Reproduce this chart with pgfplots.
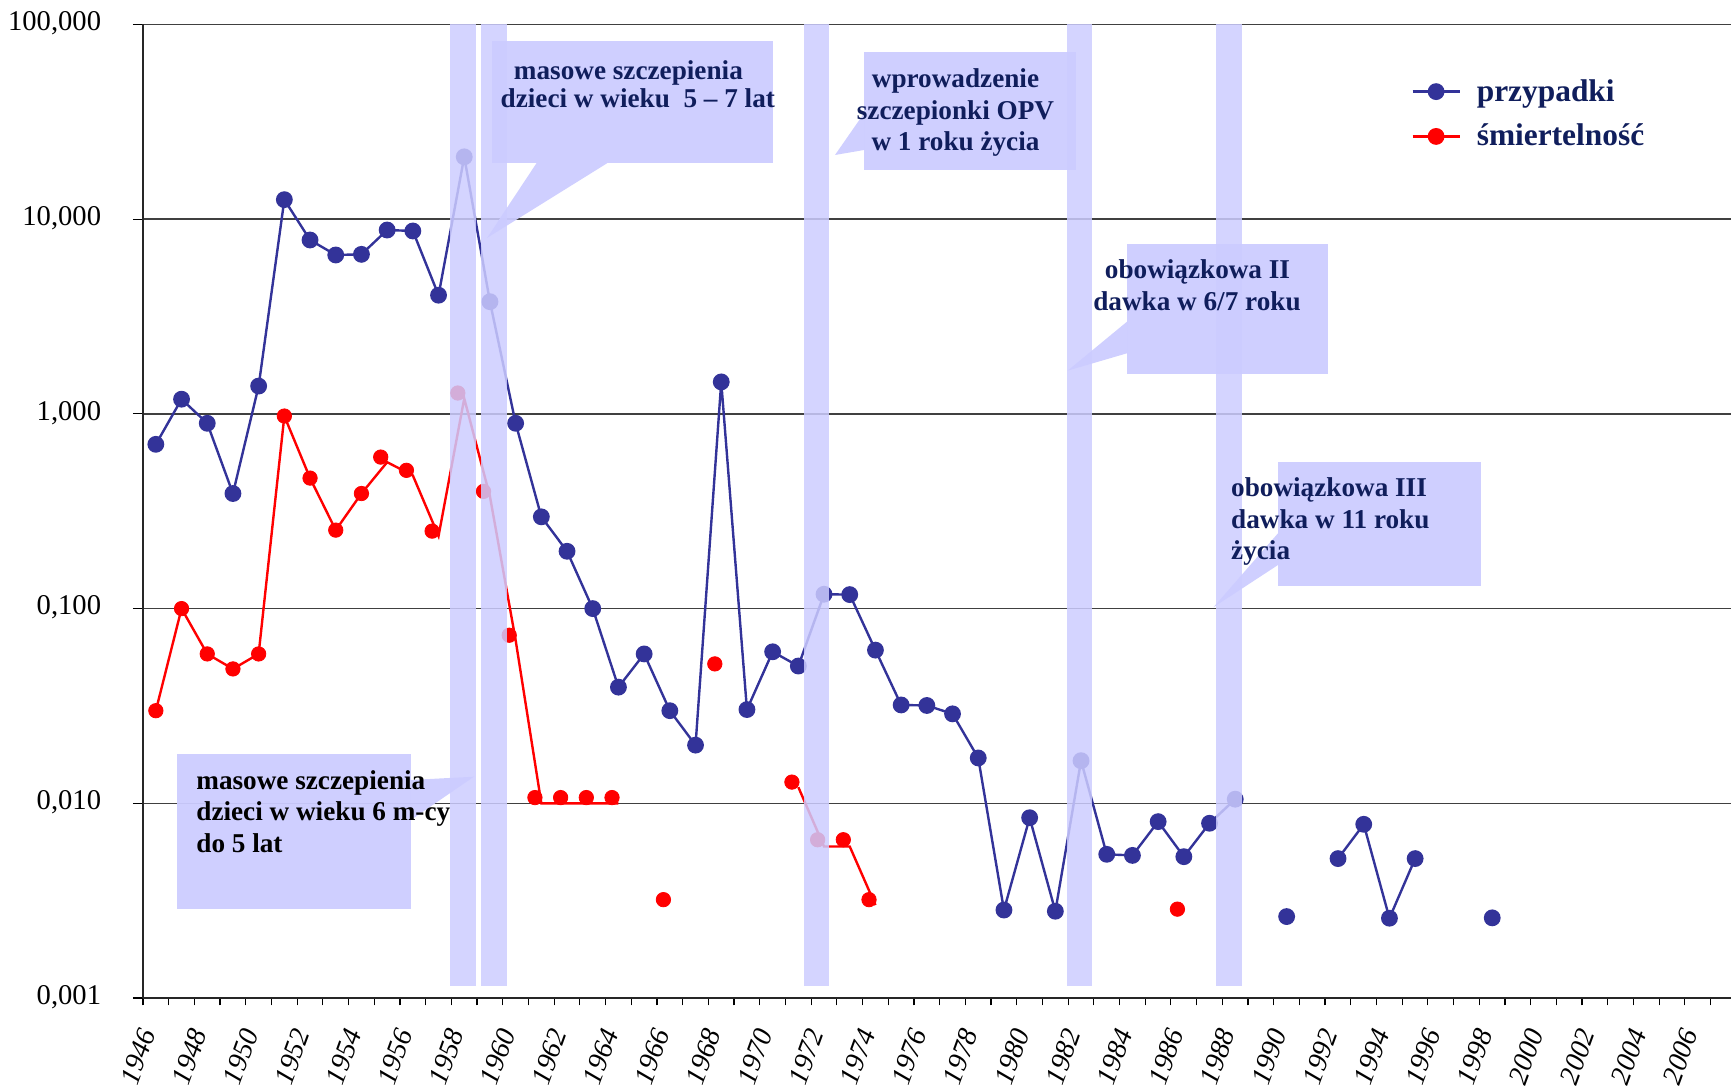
\documentclass[border=0pt]{standalone}
\usepackage{pgfplots}
\pgfplotsset{compat=1.18}
\usepackage{fontspec}
\setmainfont{Liberation Serif}
\definecolor{myblue}{RGB}{51,51,153}
\definecolor{navytxt}{RGB}{16,30,92}
\definecolor{bandcol}{RGB}{204,204,255}
\begin{document}
\begin{tikzpicture}
\begin{axis}[
  scale only axis, width=794pt, height=486.75pt,
  xmin=1946, xmax=2007.79,
  ymode=log, ymin=0.001, ymax=100,
  axis lines*=left,
  axis line style={black!85, line width=0.7pt},
  tick align=outside,
  major tick length=5pt, minor tick length=3.7pt,
  tick style={black, line width=0.6pt},
  ytick={0.001,0.01,0.1,1,10,100},
  yticklabels={{0,001},{0,010},{0,100},{1,000},{10,000},{100,000}},
  yminorticks=false,
  ymajorgrids, grid style={black!75, line width=0.7pt},
  xtick={1946.5,1948.5,...,2006.5},
  xticklabels={1946,1948,1950,1952,1954,1956,1958,1960,1962,1964,1966,1968,1970,1972,1974,1976,1978,1980,1982,1984,1986,1988,1990,1992,1994,1996,1998,2000,2002,2004,2006},
  minor xtick={1946,1947,...,2007},
  major x tick style={draw=none},
  xticklabel style={font=\itshape\fontsize{14}{14}\selectfont, inner sep=0pt, xshift=-4pt, yshift=-11pt, rotate=70, anchor=east},
  yticklabel style={font=\fontsize{14.3}{14.3}\selectfont, inner sep=0pt, anchor=east, xshift=-15.75pt, yshift=0.6pt},
  unbounded coords=jump,
  legend style={draw=none, fill=none, at={(0.7985,0.9442)}, anchor=north west, inner sep=0pt,
    row sep=10pt, column sep=8pt, font=\bfseries\fontsize{15.7}{18}\selectfont, text=navytxt,
    nodes={inner sep=0pt}},
  legend cell align=left,
  legend image code/.code={\draw[mark repeat=2,mark phase=2,#1] plot coordinates {(0pt,0pt)(11.75pt,0pt)(23.5pt,0pt)};},
]
\addlegendimage{myblue, line width=1.2pt, mark=*, mark size=3.6pt, mark options={solid, fill=myblue}}
\addlegendentry{przypadki}
\addlegendimage{red, line width=1.2pt, mark=*, mark size=3.6pt, mark options={solid, fill=red}}
\addlegendentry{śmiertelność}

% przypadki
\addplot[forget plot, myblue, line width=1.2pt, mark=*, mark size=3.6pt, mark options={solid, fill=myblue}] coordinates {
(1946.5,0.698)(1947.5,1.19)(1948.5,0.895)(1949.5,0.39)(1950.5,1.39)(1951.5,12.6)(1952.5,7.82)(1953.5,6.55)(1954.5,6.6)(1955.5,8.8)(1956.5,8.7)(1957.5,4.07)(1958.5,20.9)(1959.5,3.77)(1960.5,0.895)(1961.5,0.296)(1962.5,0.197)(1963.5,0.100)(1964.5,0.0395)(1965.5,0.0585)(1966.5,0.0299)(1967.5,0.0199)(1968.5,1.46)(1969.5,0.0303)(1970.5,0.060)(1971.5,0.0507)(1972.5,0.1185)(1973.5,0.118)(1974.5,0.0612)(1975.5,0.032)(1976.5,0.0318)(1977.5,0.0288)(1978.5,0.0171)(1979.5,0.00283)(1980.5,0.00843)(1981.5,0.00279)(1982.5,0.01655)(1983.5,0.00547)(1984.5,0.0054)(1985.5,0.00805)(1986.5,0.00532)(1987.5,0.0079)(1988.5,0.0105)(1989.5,nan)(1990.5,0.00262)(1991.5,nan)(1992.5,0.0052)(1993.5,0.0078)(1994.5,0.00257)(1995.5,0.0052)(1996.5,nan)(1998.5,0.00258)
};
% smiertelnosc - line
\addplot[forget plot, red, line width=1.2pt, no marks] coordinates {
(1946.5,0.0299)(1947.5,0.100)(1948.5,0.0585)(1949.5,0.049)(1950.5,0.0585)(1951.5,0.975)(1952.5,0.468)(1953.5,0.253)(1954.5,0.39)(1955.5,0.565)(1956.5,0.483)(1957.5,0.236)(1958.5,1.2)(1959.5,0.377)(1960.5,0.0688)(1961.5,0.0100)(1962.5,0.0100)(1963.5,0.0100)(1964.5,0.0100)(1965.5,nan)(1971.5,0.0121)(1972.5,0.0060)(1973.5,0.0060)(1974.5,0.0030)
};
% smiertelnosc - points
\addplot[forget plot, only marks, red, mark=*, mark size=3.6pt, mark options={solid, fill=red}] coordinates {
(1946.5,0.0299)(1947.5,0.100)(1948.5,0.0585)(1949.5,0.049)(1950.5,0.0585)(1951.5,0.975)(1952.5,0.468)(1953.5,0.253)(1954.5,0.39)(1955.25,0.60)(1956.25,0.513)(1957.25,0.25)(1958.25,1.28)(1959.25,0.40)(1960.25,0.073)(1961.25,0.0107)(1962.25,0.0107)(1963.25,0.0107)(1964.25,0.0107)(1966.25,0.0032)(1968.25,0.052)(1971.25,0.01285)(1972.25,0.0065)(1973.25,0.0065)(1974.25,0.0032)(1986.25,0.00286)
};
\end{axis}
\begin{scope}[shift={(current axis.north west)}, x=0.5pt, y=-0.5pt, shift={(-143,-24.5)}]
\pgfresetboundingbox
\path[use as bounding box] (0,0) rectangle (1731,1086);
% bands
\fill[bandcol, opacity=0.85] (450.4,24.5) rectangle (475.8,985.7);
\fill[bandcol, opacity=0.85] (481.3,24.5) rectangle (506.7,985.7);
\fill[bandcol, opacity=0.85] (803.7,24.5) rectangle (829.1,985.7);
\fill[bandcol, opacity=0.85] (1066.5,24.5) rectangle (1091.9,985.7);
\fill[bandcol, opacity=0.85] (1215.5,24.5) rectangle (1242,985.7);
% callouts
\fill[bandcol, opacity=0.95] (492.4,40.8) rectangle (772.8,163.4);
\fill[bandcol, opacity=0.95] (536.5,163.2) -- (487,238) -- (607.2,163.2) -- cycle;
\fill[bandcol, opacity=0.95] (864,51.7) rectangle (1076,170);
\fill[bandcol, opacity=0.95] (864.2,113) -- (835,155) -- (864.2,150) -- cycle;
\fill[bandcol, opacity=0.95] (1126.8,244) rectangle (1327.7,374);
\fill[bandcol, opacity=0.95] (1127,321.7) -- (1067.6,370.7) -- (1127,353.3) -- cycle;
\fill[bandcol, opacity=0.95] (1277.7,462.3) rectangle (1481.4,585.7);
\fill[bandcol, opacity=0.95] (1278,533.3) -- (1213.4,607.3) -- (1278,565) -- cycle;
\fill[bandcol, opacity=0.95] (177.2,754) rectangle (411,909);
\fill[bandcol, opacity=0.95] (410.8,780) -- (474,776.7) -- (410.8,820) -- cycle;
% texts
\tikzset{ct/.style={font=\bfseries\fontsize{13.6}{16}\selectfont, text=navytxt, inner sep=0pt, anchor=base}}
\node[ct] at (628.4,79.3) {masowe szczepienia};
\node[ct] at (637.8,107.3) {dzieci w wieku\ \ 5 – 7 lat};
\node[ct] at (955.5,87.3) {wprowadzenie};
\node[ct] at (955.5,119.3) {szczepionki OPV};
\node[ct] at (955.5,150.7) {w 1 roku życia};
\node[ct] at (1197.5,279) {obowiązkowa II};
\node[ct] at (1197,310.7) {dawka w 6/7 roku};
\node[ct, anchor=base west] at (1230.8,496.7) {obowiązkowa III};
\node[ct, anchor=base west] at (1230.8,528.3) {dawka w 11 roku};
\node[ct, anchor=base west] at (1230.8,560) {życia};
\node[ct, text=black, anchor=base west] at (196,790) {masowe szczepienia};
\node[ct, text=black, anchor=base west] at (196,820.7) {dzieci w wieku 6 m-cy};
\node[ct, text=black, anchor=base west] at (196,852.7) {do 5 lat};
\end{scope}
\end{tikzpicture}
\end{document}
